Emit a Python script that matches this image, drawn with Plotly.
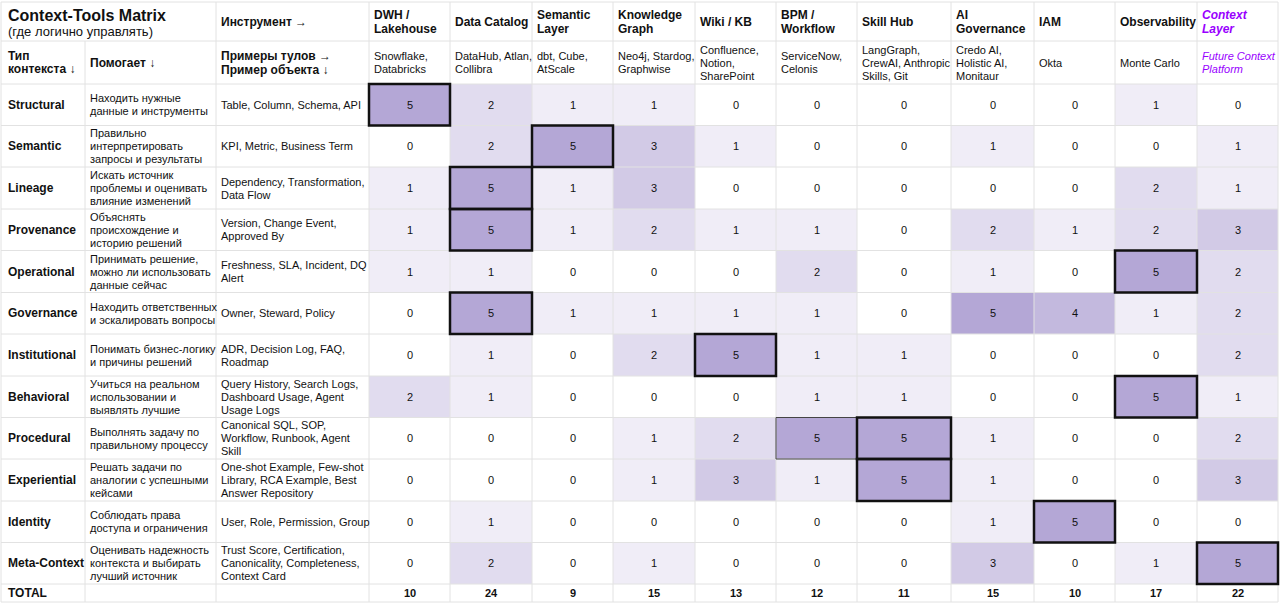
import plotly.graph_objects as go

# данные таблицы
tools = ["DWH /<br>Lakehouse", "Data Catalog", "Semantic<br>Layer", "Knowledge<br>Graph", "Wiki / KB",
         "BPM /<br>Workflow", "Skill Hub", "AI<br>Governance", "IAM", "Observability", "Context<br>Layer"]
tool_examples = ["Snowflake,<br>Databricks", "DataHub, Atlan,<br>Collibra", "dbt, Cube,<br>AtScale",
                 "Neo4j, Stardog,<br>Graphwise", "Confluence,<br>Notion,<br>SharePoint", "ServiceNow,<br>Celonis",
                 "LangGraph,<br>CrewAI, Anthropic<br>Skills, Git", "Credo AI,<br>Holistic AI,<br>Monitaur",
                 "Okta", "Monte Carlo", "Future Context<br>Platform"]
context_types = ["Structural", "Semantic", "Lineage", "Provenance", "Operational", "Governance",
                 "Institutional", "Behavioral", "Procedural", "Experiential", "Identity", "Meta-Context"]
helps = ["Находить нужные<br>данные и инструменты",
         "Правильно<br>интерпретировать<br>запросы и результаты",
         "Искать источник<br>проблемы и оценивать<br>влияние изменений",
         "Объяснять<br>происхождение и<br>историю решений",
         "Принимать решение,<br>можно ли использовать<br>данные сейчас",
         "Находить ответственных<br>и эскалировать вопросы",
         "Понимать бизнес-логику<br>и причины решений",
         "Учиться на реальном<br>использовании и<br>выявлять лучшие",
         "Выполнять задачу по<br>правильному процессу",
         "Решать задачи по<br>аналогии с успешными<br>кейсами",
         "Соблюдать права<br>доступа и ограничения",
         "Оценивать надежность<br>контекста и выбирать<br>лучший источник"]
object_examples = ["Table, Column, Schema, API",
                   "KPI, Metric, Business Term",
                   "Dependency, Transformation,<br>Data Flow",
                   "Version, Change Event,<br>Approved By",
                   "Freshness, SLA, Incident, DQ<br>Alert",
                   "Owner, Steward, Policy",
                   "ADR, Decision Log, FAQ,<br>Roadmap",
                   "Query History, Search Logs,<br>Dashboard Usage, Agent<br>Usage Logs",
                   "Canonical SQL, SOP,<br>Workflow, Runbook, Agent<br>Skill",
                   "One-shot Example, Few-shot<br>Library, RCA Example, Best<br>Answer Repository",
                   "User, Role, Permission, Group",
                   "Trust Score, Certification,<br>Canonicality, Completeness,<br>Context Card"]
scores = [
    [5, 2, 1, 1, 0, 0, 0, 0, 0, 1, 0],
    [0, 2, 5, 3, 1, 0, 0, 1, 0, 0, 1],
    [1, 5, 1, 3, 0, 0, 0, 0, 0, 2, 1],
    [1, 5, 1, 2, 1, 1, 0, 2, 1, 2, 3],
    [1, 1, 0, 0, 0, 2, 0, 1, 0, 5, 2],
    [0, 5, 1, 1, 1, 1, 0, 5, 4, 1, 2],
    [0, 1, 0, 2, 5, 1, 1, 0, 0, 0, 2],
    [2, 1, 0, 0, 0, 1, 1, 0, 0, 5, 1],
    [0, 0, 0, 1, 2, 5, 5, 1, 0, 0, 2],
    [0, 0, 0, 1, 3, 1, 5, 1, 0, 0, 3],
    [0, 1, 0, 0, 0, 0, 0, 1, 5, 0, 0],
    [0, 2, 0, 1, 0, 0, 0, 3, 0, 1, 5],
]
totals = [10, 24, 9, 15, 13, 12, 11, 15, 10, 17, 22]
# главный инструмент для каждого типа (жирная рамка)
primary_tool = [0, 2, 1, 1, 9, 1, 4, 9, 6, 6, 8, 10]
thin_boxes = [(8, 5)]

# сетка (в пикселях)
left_edges = [1, 85, 216, 369]
tool_edges = [369, 450, 532, 613, 695, 776, 857, 951, 1034, 1115, 1197, 1278]
head_edges = [2, 41, 84]
row_edges = [84, 125.5, 167, 209, 250.5, 292.5, 334, 376, 417.5, 459, 501, 542.5, 584]
total_bottom = 602

FONT = "Liberation Sans, Arial, DejaVu Sans, sans-serif"
PURPLE = "#9900ff"
GRID = "#e2e2e2"

fig = go.Figure()

fig.add_trace(go.Heatmap(
    z=scores, x=tool_edges, y=row_edges,
    zmin=0, zmax=5, colorscale=[[0, "#ffffff"], [1, "#b4a7d6"]],
    showscale=False, texttemplate="%{z}",
    textfont=dict(size=11, color="#111", family=FONT),
    hoverinfo="skip",
))

xc = [(tool_edges[i] + tool_edges[i + 1]) / 2 for i in range(len(tools))]
yc = [(row_edges[i] + row_edges[i + 1]) / 2 for i in range(len(context_types))]

ann = []
def txt(x, y, s, size=11, bold=False, color="#111", italic=False, xanchor="left", lh=None):
    # каждая строка отдельно, чтобы межстрочный интервал был как в таблице
    lines = s.split("<br>")
    lh = lh or round(size * 1.18)
    n = len(lines)
    for k, line in enumerate(lines):
        t = line
        if bold:
            t = "<b>" + t + "</b>"
        if italic:
            t = "<i>" + t + "</i>"
        ann.append(dict(x=x, y=y + (k - (n - 1) / 2) * lh, xref="x", yref="y", text=t, showarrow=False,
                        xanchor=xanchor, yanchor="middle",
                        font=dict(size=size, color=color, family=FONT)))

h1 = (head_edges[0] + head_edges[1]) / 2
h2 = (head_edges[1] + head_edges[2]) / 2

# заголовки
txt(6, 15, "Context-Tools Matrix", size=16, bold=True)
txt(6, 31, "(где логично управлять)", size=13)
txt(219, h1, "Инструмент →", size=12, bold=True)
txt(6, h2, "Тип<br>контекста ↓", size=12, bold=True, lh=13)
txt(88, h2, "Помогает ↓", size=12, bold=True)
txt(219, h2, "Примеры тулов →<br>Пример объекта ↓", size=12, bold=True, lh=14)
for i, t in enumerate(tools):
    last = i == len(tools) - 1
    txt(tool_edges[i] + 3, h1, t, size=12, bold=True, italic=last, color=PURPLE if last else "#111", lh=14)
    txt(tool_edges[i] + 3, h2, tool_examples[i], size=11, italic=last, color=PURPLE if last else "#111", lh=13)

for j, name in enumerate(context_types):
    txt(6, yc[j], name, size=12, bold=True)
    txt(88, yc[j], helps[j], size=11, lh=13)
    txt(219, yc[j], object_examples[j], size=11, lh=13)

ty = (row_edges[-1] + total_bottom) / 2
txt(6, ty, "TOTAL", size=12, bold=True)
for i, v in enumerate(totals):
    txt(xc[i], ty, str(v), size=11, bold=True, xanchor="center")

# линии сетки
shapes = []
all_x = left_edges + tool_edges[1:]
for x in all_x:
    y0 = head_edges[1] if x == 85 else head_edges[0]
    shapes.append(dict(type="line", x0=x, x1=x, y0=y0, y1=total_bottom, xref="x", yref="y",
                       line=dict(color=GRID, width=1)))
for y in head_edges + row_edges[1:] + [total_bottom]:
    shapes.append(dict(type="line", x0=all_x[0], x1=all_x[-1], y0=y, y1=y, xref="x", yref="y",
                       line=dict(color=GRID, width=1)))

for r, c in thin_boxes:
    shapes.append(dict(type="rect", x0=tool_edges[c], x1=tool_edges[c + 1], y0=row_edges[r], y1=row_edges[r + 1],
                       xref="x", yref="y", line=dict(color="#444", width=1)))
for r, c in enumerate(primary_tool):
    shapes.append(dict(type="rect", x0=tool_edges[c], x1=tool_edges[c + 1], y0=row_edges[r], y1=row_edges[r + 1],
                       xref="x", yref="y", line=dict(color="#111", width=2.5)))

fig.update_layout(
    width=1280, height=606,
    margin=dict(l=0, r=0, t=0, b=0),
    paper_bgcolor="white", plot_bgcolor="white",
    xaxis=dict(range=[0, 1280], visible=False, fixedrange=True),
    yaxis=dict(range=[606, 0], visible=False, fixedrange=True),
    annotations=ann, shapes=shapes, showlegend=False,
)

fig.write_html("out.html", config={"displayModeBar": False},
               post_script="document.body.style.margin='0';document.body.style.overflow='hidden';")
